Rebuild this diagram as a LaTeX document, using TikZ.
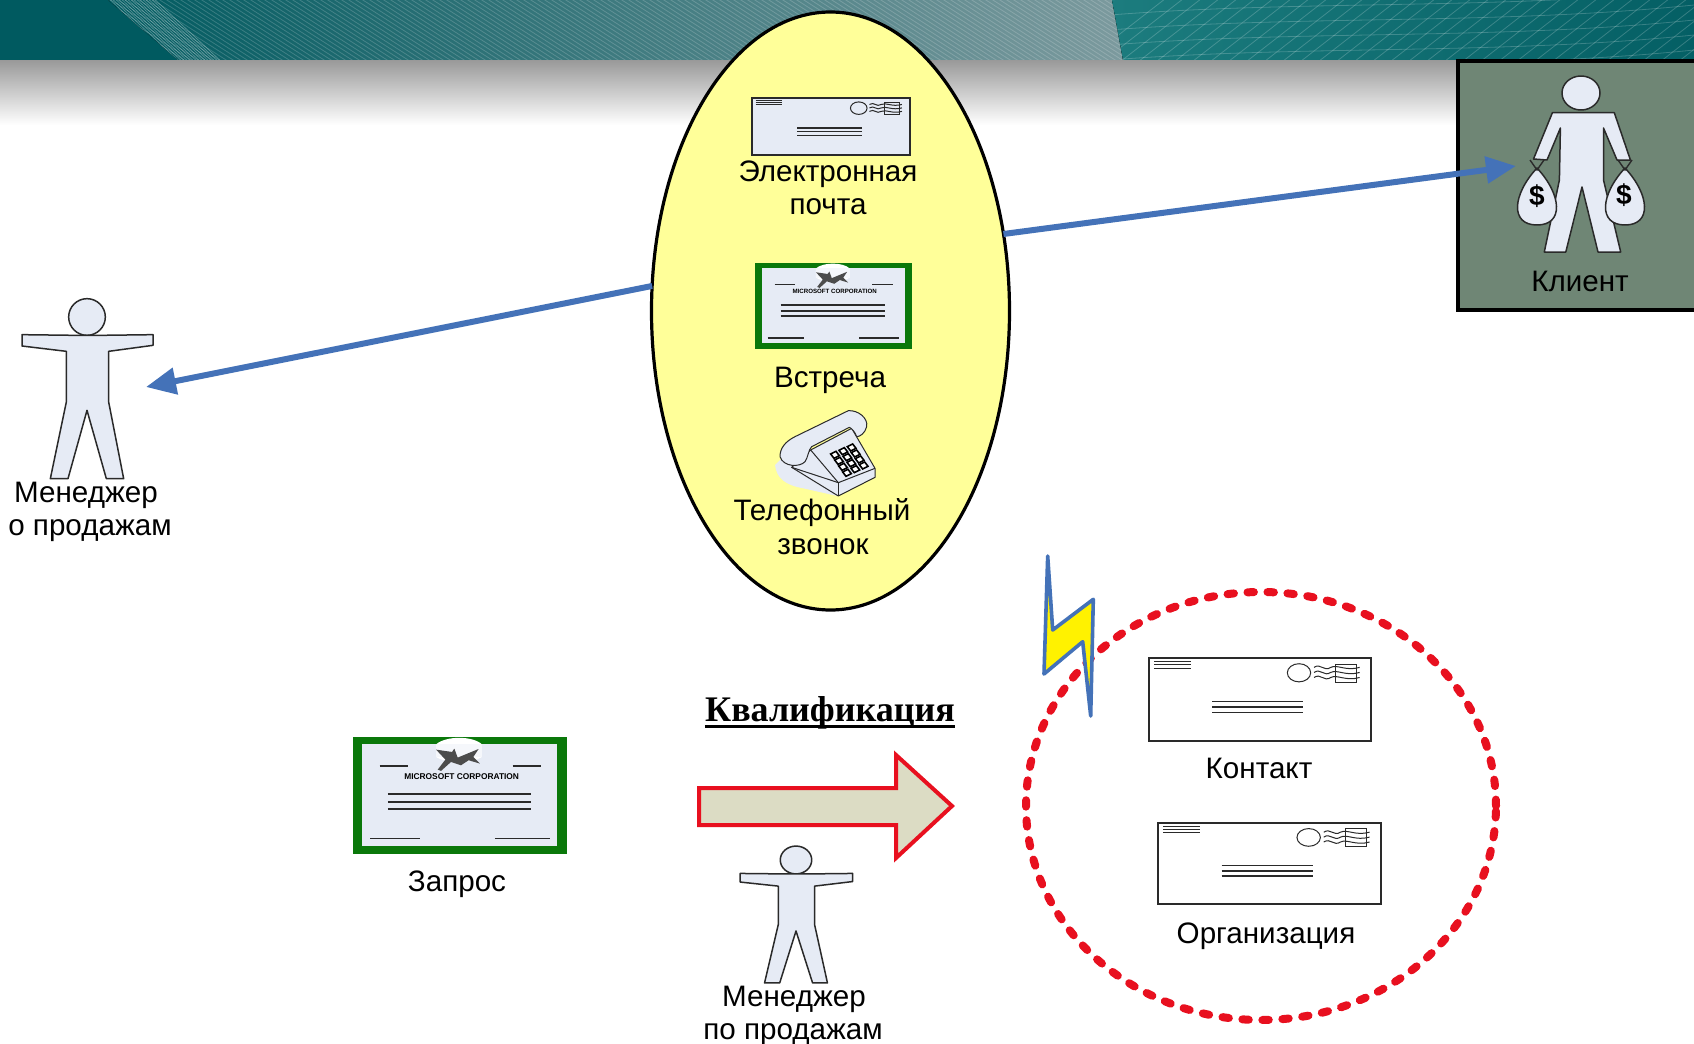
\documentclass[tikz,border=0pt]{standalone}
\usepackage{fontspec}
\setmainfont{Liberation Sans}
\newfontfamily\headserif{Liberation Serif}
\usetikzlibrary{shapes.geometric,arrows.meta,patterns}
\definecolor{paleblue}{HTML}{E6EBF5}
\definecolor{ovalyellow}{HTML}{FFFF99}
\definecolor{certgreen}{HTML}{0A780A}
\definecolor{arrowblue}{HTML}{4472B8}
\definecolor{dotred}{HTML}{E8101F}
\definecolor{clientbg}{HTML}{6F8675}
\definecolor{bandteal}{HTML}{005A60}
\definecolor{hatchmid}{HTML}{2F6E74}
\definecolor{hatchend}{HTML}{7C9A9E}
\definecolor{gridteal}{HTML}{1C7C7E}
\definecolor{outline}{HTML}{2A2A2A}
\definecolor{arrowfill}{HTML}{DCDCC4}
\tikzset{
  lab/.style={font=\fontsize{14.8pt}{16pt}\selectfont, inner sep=0pt, text=black, yshift=-1.5pt},
  smallart/.style={line width=.5pt, draw=outline},
  person/.style={line width=.75pt, draw=outline, fill=paleblue, line join=round},
  blueconn/.style={draw=arrowblue, line width=3pt, -{Triangle[length=15pt,width=13pt]}},
}
% envelope: local units 666 x 247
\newcommand{\envfig}[5]{%
\begin{scope}[shift={(#1,#2)},xscale=#3/666,yscale=#4/247]
  \draw[line width=.6pt,draw=outline,fill=#5] (0,0) rectangle (666,247);
  \foreach \yy in {10,20,30}{\draw[smallart] (15,\yy) -- (125,\yy);}
  \foreach \yy in {130,146,162}{\draw[line width=.8pt,draw=outline] (190,\yy) -- (462,\yy);}
  \draw[smallart] (450,44) ellipse [x radius=35,y radius=27];
  \draw[smallart] (560,18) rectangle (622,72);
  \foreach \yy in {28,43,58}{\draw[smallart] (495,\yy) .. controls (515,\yy-14) and (525,\yy+14) .. (545,\yy) .. controls (565,\yy-10) and (590,\yy+12) .. (632,\yy);}
\end{scope}}
% certificate: local units 644 x 352
\newcommand{\certfig}[6]{%
\begin{scope}[shift={(#1,#2)},xscale=#3/644,yscale=#4/352]
  \fill[certgreen] (0,0) rectangle (644,352);
  \fill[paleblue] (27,22) rectangle (614,328);
  \fill[#5] (250,22) .. controls (280,-4) and (360,-4) .. (388,22) -- (388,60) .. controls (360,80) and (280,80) .. (250,60) -- cycle;
  \fill[#5!60!paleblue] (250,22) rectangle (388,60);
  \foreach \aa/\bb/\yy in {80/165/87,480/565/87,105/535/172,105/535/196,105/535/217,52/202/306,427/592/306}
    {\draw[line width=.75pt,draw=outline] (\aa,\yy) -- (\bb,\yy);}
  \fill[black!70] (250,38) -- (298,45) -- (305,35) -- (315,62) -- (378,36) -- (362,60) -- (382,80) -- (348,70) -- (325,85) -- (295,75) -- (265,102) -- (255,98) -- (278,68) -- cycle;
  \node[inner sep=0pt, transform shape, font=\bfseries\fontsize{12.6pt}{12pt}\selectfont, text=black] (#6) at (327,118) {MICROSOFT CORPORATION};
\end{scope}}
% person: local units, origin at head centre
\newcommand{\personfig}[4]{%
\begin{scope}[shift={(#1,#2)},xscale=#3,yscale=#4]
  \draw[person] (0,0) circle [radius=55];
  \draw[person] (-195,53) -- (-35,55) -- (40,55) -- (198,53) -- (198,85) -- (65,103) -- (65,255) -- (110,485) -- (58,485) -- (0,280) -- (-57,485) -- (-110,485) -- (-62,255) -- (-62,103) -- (-195,87) -- cycle;
\end{scope}}
\begin{document}
\begin{tikzpicture}[x=.5pt,y=-.5pt]
\clip (0,0) rectangle (1694,1044);
\fill[white] (0,0) rectangle (1694,1044);
% header band
\fill[bandteal] (0,0) rectangle (1694,60);
\fill[left color=bandteal, middle color=hatchmid, right color=hatchend] (108,0) -- (178,60) -- (1123,60) -- (1112,0) -- cycle;
\fill[left color=gridteal, right color=bandteal!85!gridteal] (1112,0) -- (1123,60) -- (1694,60) -- (1694,0) -- cycle;
\begin{scope}
  \clip (108,0) -- (178,60) -- (1123,60) -- (1112,0) -- cycle;
  \foreach \i in {0,7,...,1100}{\draw[white,opacity=.18,line width=.4pt] (40+\i,-5) -- (150+\i,65);}
  \foreach \i in {0,3,...,60}{\draw[white,opacity=.35,line width=.3pt] (90+\i,-5) -- (165+\i,65);}
\end{scope}
\begin{scope}
  \clip (1112,0) -- (1123,60) -- (1694,60) -- (1694,0) -- cycle;
  \foreach \i in {0,18,...,620}{\draw[white,opacity=.2,line width=.4pt] (1080+\i,65) -- (1170+\i,-5);}
  \foreach \i in {-10,5,...,70}{\draw[white,opacity=.2,line width=.4pt] (1110,\i+10) .. controls (1300,\i-5) and (1500,\i+5) .. (1694,\i-15);}
\end{scope}
\fill[top color=black!40, bottom color=white] (0,60) rectangle (1694,125);
% client box
\fill[clientbg] (1458,60) rectangle (1694,311);
\draw[black,line width=2pt] (1694,61) -- (1458,61) -- (1458,310) -- (1694,310);
\draw[person] (1581,93) ellipse [x radius=19,y radius=17];
\draw[person] (1552.4,112.7) -- (1614.3,112.7) -- (1630.4,160) -- (1617,160) -- (1603.5,128) -- (1603.5,180) -- (1620.7,252) -- (1598,252) -- (1582,187) -- (1565.8,252) -- (1544.3,252) -- (1559.4,180) -- (1560.4,128) -- (1547,160) -- (1533.5,159) -- cycle;
\draw[person] (1537,168) .. controls (1512,195) and (1510,225) .. (1537,225) .. controls (1564,225) and (1562,195) .. (1537,168) -- cycle;
\draw[person] (1625,168) .. controls (1600,195) and (1598,225) .. (1625,225) .. controls (1652,225) and (1650,195) .. (1625,168) -- cycle;
\draw[outline,line width=.7pt] (1530,160) -- (1537,170) -- (1544,160) (1618,160) -- (1625,170) -- (1632,160);
\node[inner sep=0pt,font=\bfseries\fontsize{14pt}{14pt}\selectfont] (dollarleft) at (1537,196) {\$};
\node[inner sep=0pt,font=\bfseries\fontsize{14pt}{14pt}\selectfont] (dollarright) at (1624,195) {\$};
\node[lab] (client) at (1580,278) {Клиент};
% main oval
\node[ellipse,draw=black,line width=1.6pt,fill=ovalyellow,minimum width=179pt,minimum height=299pt,inner sep=0pt,outer sep=0pt] (oval) at (830.5,311) {};
\envfig{752}{98}{158}{57}{paleblue}
\node[lab] (mail1) at (828,171) {Электронная};
\node[lab] (mail2) at (828,204) {почта};
\certfig{755}{263}{157}{86}{white}{cert1}
\node[lab] (meet) at (830,377) {Встреча};
% telephone
\begin{scope}[shift={(720,390)},scale=1/3]
  \fill[paleblue] (165,225) .. controls (170,265) and (195,285) .. (250,295) -- (352,318) -- (300,230) -- (190,200) -- cycle;
  \draw[smallart,fill=paleblue,line join=round] (215,232) -- (355,318) -- (465,262) -- (465,235) -- (395,115) -- (272,180) -- cycle;
  \draw[smallart] (215,232) -- (355,278) -- (465,235);
  \draw[smallart] (355,278) -- (355,318);
  \draw[smallart] (272,180) -- (355,278);
  \foreach \cc in {0,1,2}{\foreach \rr in {0,1,2,3}{
    \draw[black,line width=.8pt,fill=white] ({332+\cc*25+\rr*12},{192-\cc*11+\rr*18}) -- ++(16,-8) -- ++(10,13) -- ++(-16,8) -- cycle;}}
  \draw[smallart,fill=paleblue,line join=round] (180,200) .. controls (180,175) and (195,155) .. (225,140) -- (385,62) .. controls (415,60) and (445,85) .. (440,110) .. controls (435,130) and (420,140) .. (410,140) .. controls (405,125) and (395,115) .. (388,112) -- (275,170) .. controls (265,180) and (265,200) .. (255,215) .. controls (240,232) and (190,232) .. (180,200) -- cycle;
\end{scope}
\node[lab] (phone1) at (822,510) {Телефонный};
\node[lab] (phone2) at (823,544) {звонок};
% left manager
\personfig{87}{317}{1/3}{1/3}
\node[lab] (mgr1) at (86,492) {Менеджер};
\node[lab] (mgr2) at (90,528) {о продажам};
% connectors
\coordinate (tipright) at (1516,166);
\coordinate (tipleft) at (146,387);
\draw[blueconn] (oval.24) -- (tipright);
\draw[blueconn] (oval.172.7) -- (tipleft);
% lower left request
\certfig{353}{737}{214}{117}{white}{cert2}
\node[lab] (request) at (457,881) {Запрос};
% qualification
\node[inner sep=0pt,font=\headserif\bfseries\fontsize{18pt}{20pt}\selectfont] (qual) at (830,713) {Квалификация};
\draw[black,line width=1.2pt] ([yshift=-2.4pt]qual.base west) -- ([yshift=-2.4pt]qual.base east);
\node[draw=none,inner sep=0pt] (arrowstart) at (699,806) {};
\draw[draw=dotred,fill=arrowfill,line width=2pt,line join=miter] (arrowstart.center |- 0,788) -- (896,788) -- (896,755) -- (952,806) -- (896,858) -- (896,825) -- (arrowstart.center |- 0,825) -- cycle;
\personfig{796}{860}{.286}{.2535}
\node[lab] (mgr3) at (794,996) {Менеджер};
\node[lab] (mgr4) at (793,1032) {по продажам};
% red dotted group
\node[ellipse,draw=dotred,line width=4pt,dash pattern=on 3.2pt off 6.8pt,line cap=round,minimum width=235pt,minimum height=214pt,inner sep=0pt] (group) at (1261,806) {};
% lightning
\draw[draw=arrowblue,fill=yellow,line width=1.8pt,line join=round] (1047.7,556) -- (1052.7,630) -- (1093.3,599.3) -- (1090.7,716) -- (1082.7,641.7) -- (1044,674) -- cycle;
% envelopes
\envfig{1149}{658}{222}{83}{white}
\node[lab] (contact) at (1259,765) {Контакт};
\envfig{1158}{823}{223}{81}{white}
\node[lab] (org) at (1266,933) {Организация};
\end{tikzpicture}
\end{document}
